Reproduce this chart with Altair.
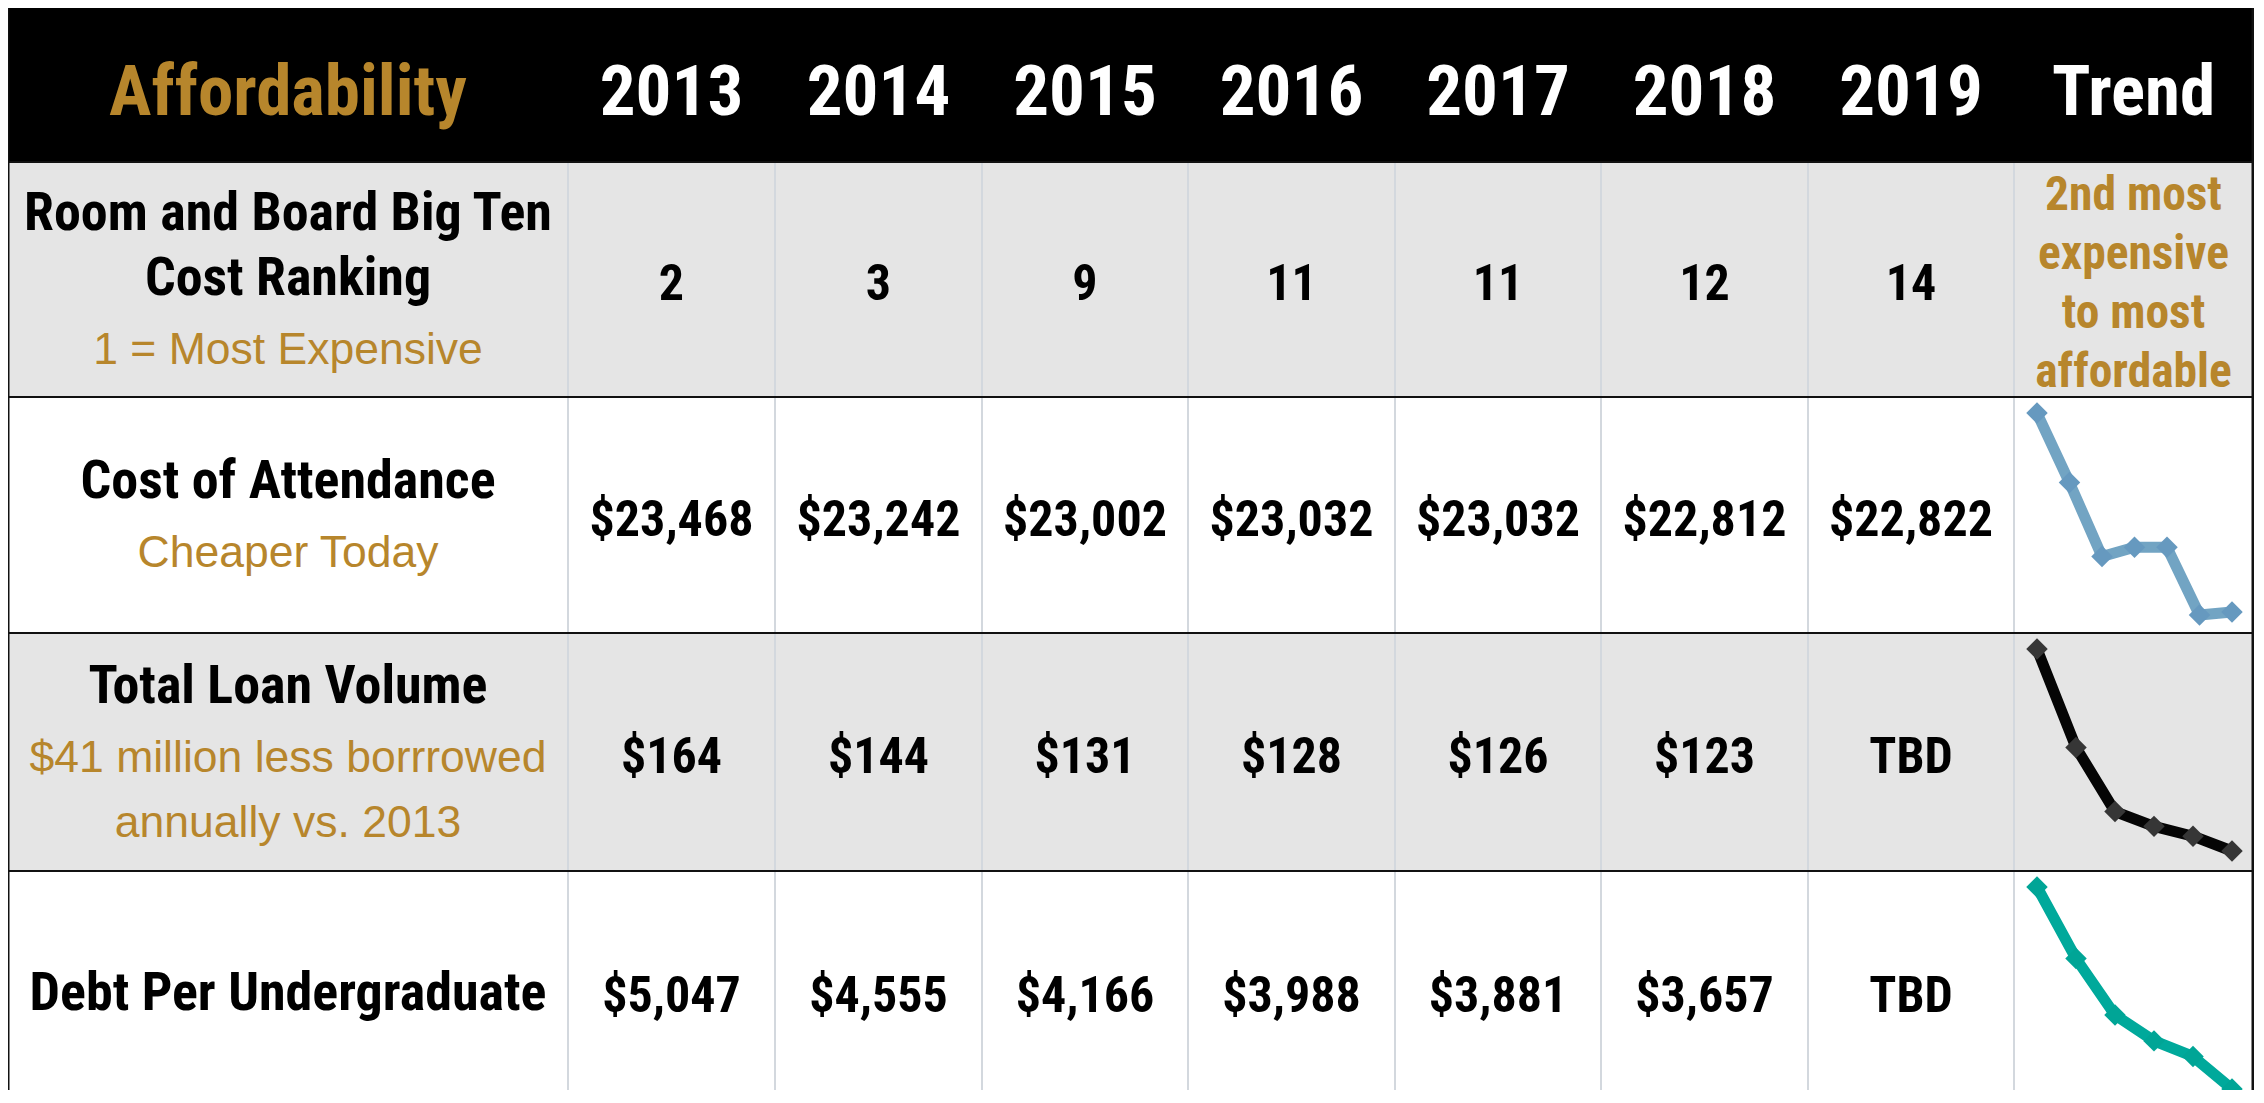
import altair as alt
import pandas as pd

# ---------------- data ----------------
years = ["2013", "2014", "2015", "2016", "2017", "2018", "2019"]
corner_title = "Affordability"
trend_title = "Trend"

row_titles = [
    ["Room and Board Big Ten", "Cost Ranking"],
    ["Cost of Attendance"],
    ["Total Loan Volume"],
    ["Debt Per Undergraduate"],
]
row_notes = [
    ["1 = Most Expensive"],
    ["Cheaper Today"],
    ["$41 million less borrrowed", "annually vs. 2013"],
    [],
]
big_ten_rank = [2, 3, 9, 11, 11, 12, 14]
cost_of_attendance = [23468, 23242, 23002, 23032, 23032, 22812, 22822]
total_loan_volume = [164, 144, 131, 128, 126, 123, None]
debt_per_undergrad = [5047, 4555, 4166, 3988, 3881, 3657, None]
trend_note = ["2nd most", "expensive", "to most", "affordable"]

# ---------------- style / layout ----------------
GOLD = "#B7862C"
GRAY_BG = "#E5E5E5"
GRID = "#D3D8DE"
W, H = 2246, 1082
OX, OY = 8, 8
col_edges = [8, 568, 775, 982, 1188, 1395, 1601, 1808, 2014, 2253]
row_edges = [7, 162, 397, 633, 871, 1111]
NARROW = "Roboto Condensed, DejaVu Sans Condensed, Liberation Sans, sans-serif"
REGULAR = "Liberation Sans, Arial, sans-serif"
CAP = 0.36  # half cap height (em) -> baseline offset from visual centre

spark_colors = {1: ("#72A4C3", "#6699BF"), 2: ("#050505", "#363636"), 3: ("#00A99B", "#00A596")}


def money(v):
    return "TBD" if v is None else "${:,}".format(v)


def ccenter(c):
    return (col_edges[c] + col_edges[c + 1]) / 2


def rcenter(r):
    return (row_edges[r] + row_edges[r + 1]) / 2


X = alt.Scale(domain=[OX, OX + W], range=[0, W])
Y = alt.Scale(domain=[OY, OY + H], range=[0, H])

# ---------------- backgrounds ----------------
bg = [
    dict(x0=col_edges[0], x1=col_edges[-1], y0=row_edges[0], y1=row_edges[1], fill="#000000"),
    dict(x0=col_edges[0], x1=col_edges[-1], y0=row_edges[1], y1=row_edges[2], fill=GRAY_BG),
    dict(x0=col_edges[0], x1=col_edges[-1], y0=row_edges[3], y1=row_edges[4], fill=GRAY_BG),
]
rects = alt.Chart(pd.DataFrame(bg)).mark_rect().encode(
    x=alt.X("x0:Q", scale=X, axis=None), x2="x1:Q",
    y=alt.Y("y0:Q", scale=Y, axis=None), y2="y1:Q",
    color=alt.Color("fill:N", scale=None),
)

# ---------------- grid lines ----------------
vgrid = pd.DataFrame([dict(x0=e, x1=e, y0=row_edges[1], y1=row_edges[-1]) for e in col_edges[1:-1]])
vlines = alt.Chart(vgrid).mark_rule(color=GRID, strokeWidth=2).encode(
    x=alt.X("x0:Q", scale=X, axis=None), x2="x1:Q",
    y=alt.Y("y0:Q", scale=Y, axis=None), y2="y1:Q",
)
hgrid = pd.DataFrame([dict(x0=col_edges[0], x1=col_edges[-1], y0=e, y1=e) for e in row_edges[1:-1]])
hlines = alt.Chart(hgrid).mark_rule(color="#111111", strokeWidth=2).encode(
    x=alt.X("x0:Q", scale=X, axis=None), x2="x1:Q",
    y=alt.Y("y0:Q", scale=Y, axis=None), y2="y1:Q",
)
borders = pd.DataFrame([
    dict(x0=col_edges[0], x1=col_edges[0], y0=row_edges[0], y1=row_edges[-1]),
    dict(x0=col_edges[-1], x1=col_edges[-1], y0=row_edges[0], y1=row_edges[-1]),
])
border_lines = alt.Chart(borders).mark_rule(color="#111111", strokeWidth=3).encode(
    x=alt.X("x0:Q", scale=X, axis=None), x2="x1:Q",
    y=alt.Y("y0:Q", scale=Y, axis=None), y2="y1:Q",
)

# ---------------- texts ----------------
def text_layer(records, font, size, weight):
    df = pd.DataFrame(records)
    return alt.Chart(df).mark_text(
        font=font, fontSize=size, fontWeight=weight, align="center", baseline="alphabetic"
    ).encode(
        x=alt.X("x:Q", scale=X, axis=None),
        y=alt.Y("y:Q", scale=Y, axis=None),
        text="t:N",
        color=alt.Color("c:N", scale=None),
    )

HDR = 71
hdr_y = rcenter(0) + 5 + CAP * HDR
header_recs = [dict(x=ccenter(0), y=hdr_y, t=corner_title, c=GOLD)]
header_recs += [dict(x=ccenter(i + 1), y=hdr_y, t=yr, c="#FFFFFF") for i, yr in enumerate(years)]
header_recs += [dict(x=ccenter(8), y=hdr_y, t=trend_title, c="#FFFFFF")]

VAL = 50
value_rows = [
    [str(v) for v in big_ten_rank],
    [money(v) for v in cost_of_attendance],
    [money(v) for v in total_loan_volume],
    [money(v) for v in debt_per_undergrad],
]
value_recs = []
for r, vals in enumerate(value_rows):
    for i, s in enumerate(vals):
        value_recs.append(dict(x=ccenter(i + 1), y=rcenter(r + 1) + 2.5 + CAP * VAL, t=s, c="#000000"))

TTL, NOTE = 54, 44.5
title_recs, note_recs = [], []
for r in range(4):
    lines = [(t, "title") for t in row_titles[r]] + [(t, "note") for t in row_notes[r]]
    offs = [0.0]
    for k in range(1, len(lines)):
        step = 72 if (lines[k - 1][1] == "title" and lines[k][1] == "note") else 65
        offs.append(offs[-1] + step)
    mid = offs[-1] / 2
    for (t, kind), o in zip(lines, offs):
        cy = rcenter(r + 1) + o - mid
        if kind == "title":
            title_recs.append(dict(x=ccenter(0), y=cy + CAP * TTL, t=t, c="#000000"))
        else:
            note_recs.append(dict(x=ccenter(0), y=cy + CAP * NOTE, t=t, c=GOLD))

TN = 47.5
tn_recs = []
for k, t in enumerate(trend_note):
    cy = rcenter(1) + 1.5 + (k - (len(trend_note) - 1) / 2) * 59
    tn_recs.append(dict(x=ccenter(8), y=cy + CAP * TN, t=t, c=GOLD))

texts = [
    text_layer(header_recs, NARROW, HDR, "bold"),
    text_layer(value_recs, NARROW, VAL, "bold"),
    text_layer(title_recs, NARROW, TTL, "bold"),
    text_layer(note_recs, REGULAR, NOTE, "normal"),
    text_layer(tn_recs, NARROW, TN, "bold"),
]

table = alt.layer(rects, vlines, hlines, border_lines, *texts)

# ---------------- sparklines ----------------
series = {1: cost_of_attendance, 2: total_loan_volume, 3: debt_per_undergrad}
sparks = []
for r, vals in series.items():
    df = pd.DataFrame([dict(year=int(y), v=v) for y, v in zip(years, vals) if v is not None])
    top = row_edges[r + 1] + 16 - OY
    bot = row_edges[r + 1] + 218 - OY
    xs = alt.Scale(zero=False, nice=False, range=[2037 - OX, 2232 - OX])
    ys = alt.Scale(zero=False, nice=False, range=[bot, top])
    lc, pc = spark_colors[r]
    base = alt.Chart(df).encode(
        x=alt.X("year:Q", scale=xs, axis=None),
        y=alt.Y("v:Q", scale=ys, axis=None),
    )
    line = base.mark_line(color=lc, strokeWidth=11, strokeJoin="round")
    pts = base.mark_point(shape="diamond", filled=True, size=460, color=pc, opacity=1)
    sparks.append(alt.layer(line, pts))

chart = alt.layer(table, *sparks).resolve_scale(x="independent", y="independent").properties(
    width=W, height=H, padding=0, background="#FFFFFF",
    autosize=alt.AutoSizeParams(type="none"),
).configure_view(stroke=None)

chart.save("out.html", embed_options={"renderer": "svg", "actions": False})
